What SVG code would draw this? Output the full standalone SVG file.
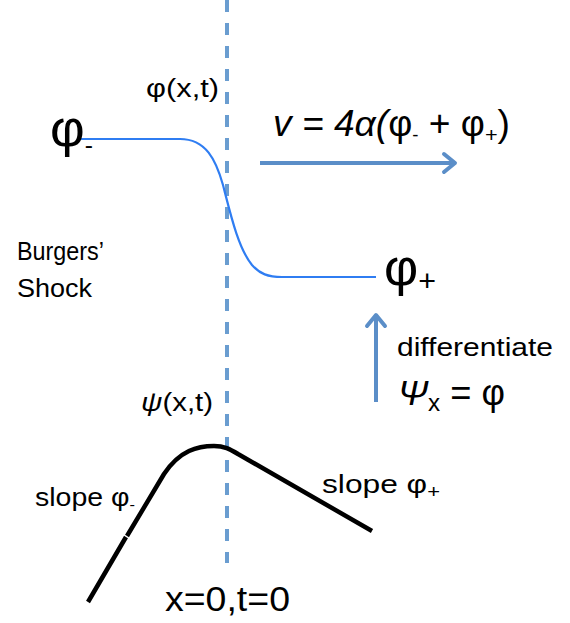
<svg xmlns="http://www.w3.org/2000/svg" width="570" height="623" viewBox="0 0 570 623">
<style>
text{font-family:"Liberation Sans","DejaVu Sans",sans-serif;fill:#000}
.it{font-style:italic}
.dash{stroke:#6a9dd0;stroke-width:4;fill:none;stroke-dasharray:12 11}
.arr{stroke:#5b8ec8;stroke-width:4;fill:none;marker-end:url(#head)}
.phi{stroke:#2f7df2;stroke-width:2.2;fill:none}
.psi{stroke:#000;stroke-width:4.5;fill:none;stroke-linejoin:round}
</style>
<defs>
<marker id="head" markerUnits="userSpaceOnUse" markerWidth="30" markerHeight="30" viewBox="-15 -15 30 30" refX="0" refY="0" orient="auto">
<path d="M-11,-9 L0,0 L-11,9" stroke="#5b8ec8" stroke-width="4" fill="none" stroke-linecap="round" stroke-linejoin="round"/>
</marker>
</defs>
<rect width="570" height="623" fill="#fff"/>
<g id="axis">
<line class="dash" x1="227" y1="0" x2="227" y2="563"/>
</g>
<g id="phi-curve">
<path class="phi" d="M80,139 L180,139 C206,139 216,160 223,185 C230,212 238,248 252,265 C260,274 268,277 282,277 L376,277"/>
</g>
<g id="psi-curve">
<path class="psi" d="M88,602 L126,537 M127,536 L164,474 C180,450 198,446 214,446 C224,446 230,449 238,454 L372,531"/>
</g>
<g id="connectors">
<line class="arr" x1="260" y1="163" x2="455" y2="163"/>
<line class="arr" x1="376" y1="402" x2="376" y2="315"/>
</g>
<g id="labels">
<text x="146" y="97" font-size="26" textLength="73" lengthAdjust="spacingAndGlyphs">φ(x,t)</text>
<text x="50" y="146" font-size="52" textLength="43" lengthAdjust="spacingAndGlyphs">φ<tspan font-size="24" dy="7">-</tspan></text>
<text x="273" y="136" font-size="36" textLength="237" lengthAdjust="spacingAndGlyphs"><tspan class="it">v = 4α(</tspan>φ<tspan font-size="18" dy="5">-</tspan><tspan dy="-5"> + φ</tspan><tspan font-size="21" dy="6">+</tspan><tspan dy="-6">)</tspan></text>
<text x="384" y="285" font-size="52" textLength="52" lengthAdjust="spacingAndGlyphs">φ<tspan font-size="30" dy="6">+</tspan></text>
<text x="17" y="260" font-size="26" textLength="87" lengthAdjust="spacingAndGlyphs">Burgers’</text>
<text x="17" y="297" font-size="26" textLength="75" lengthAdjust="spacingAndGlyphs">Shock</text>
<text x="397" y="356" font-size="26" textLength="156" lengthAdjust="spacingAndGlyphs">differentiate</text>
<text x="398" y="405" font-size="36" textLength="107" lengthAdjust="spacingAndGlyphs"><tspan class="it">Ψ</tspan><tspan font-size="24" dy="6">x</tspan><tspan dy="-6"> = φ</tspan></text>
<text x="141" y="411" font-size="26" textLength="72" lengthAdjust="spacingAndGlyphs"><tspan class="it">ψ</tspan>(x,t)</text>
<text x="35" y="506" font-size="26" textLength="100" lengthAdjust="spacingAndGlyphs">slope φ<tspan font-size="15" dy="4">-</tspan></text>
<text x="322" y="493" font-size="26" textLength="118" lengthAdjust="spacingAndGlyphs">slope φ<tspan font-size="18" dy="5">+</tspan></text>
<text x="165" y="611" font-size="35" textLength="125" lengthAdjust="spacingAndGlyphs">x=0,t=0</text>
</g>
</svg>
